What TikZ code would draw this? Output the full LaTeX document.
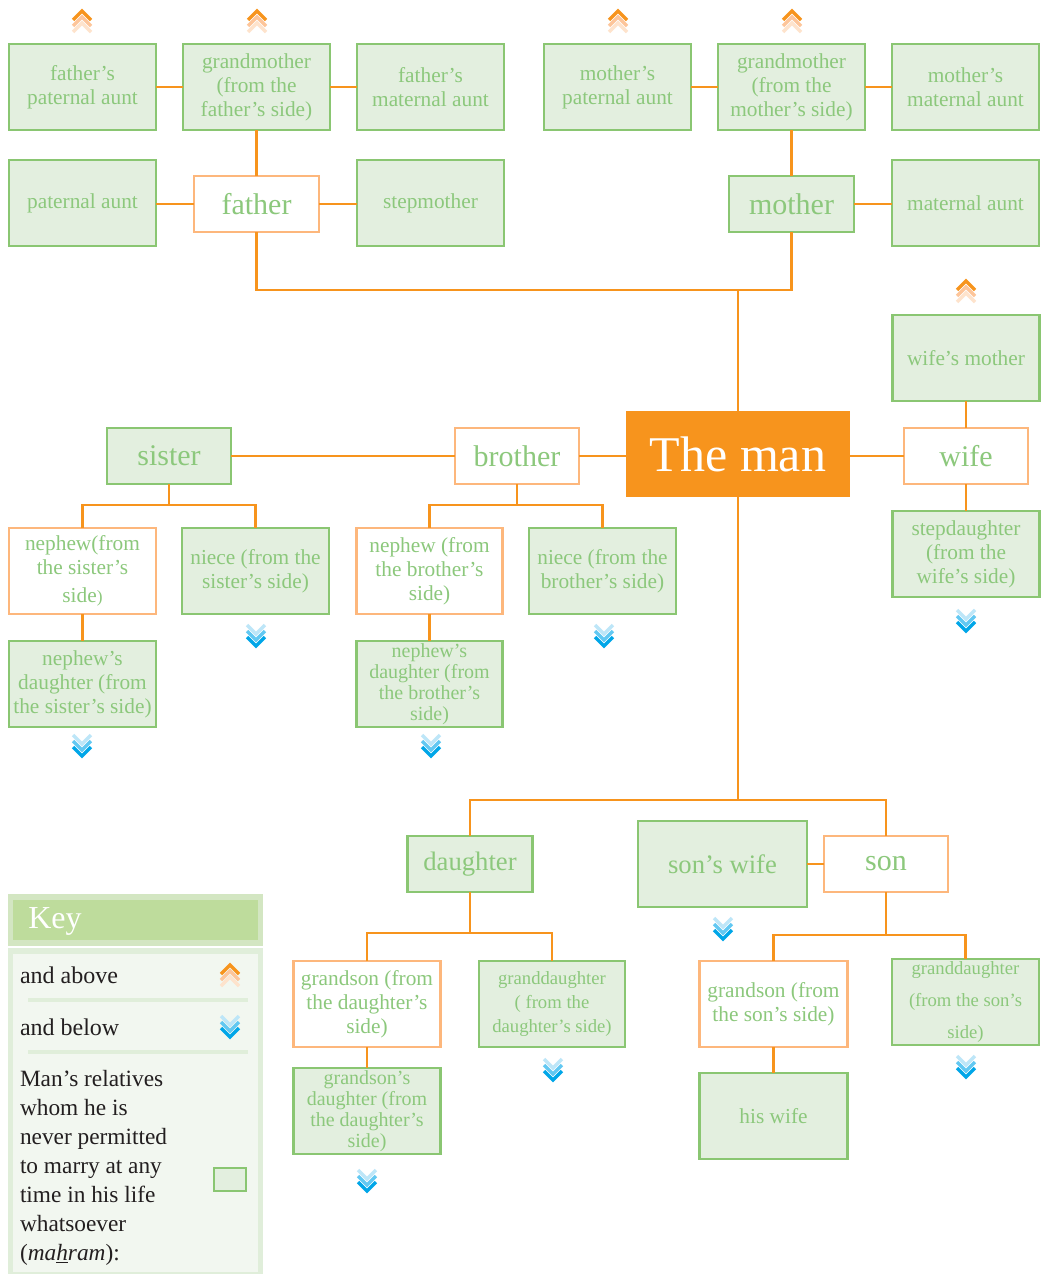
\documentclass[tikz,border=0pt]{standalone}
\usepackage{fontspec}
\setmainfont{Liberation Serif}
\definecolor{lorange}{HTML}{F7941D}
\definecolor{oborder}{HTML}{FDB77C}
\definecolor{gborder}{HTML}{8AC672}
\definecolor{gfill}{HTML}{E3EFDF}
\definecolor{gtext}{HTML}{8CC87C}
\definecolor{cuA}{HTML}{F7941D}
\definecolor{cuB}{HTML}{FDC59A}
\definecolor{cuC}{HTML}{FEE3CC}
\definecolor{cdA}{HTML}{BDE6F8}
\definecolor{cdB}{HTML}{62C8F2}
\definecolor{cdC}{HTML}{00A6E8}
\definecolor{khf}{HTML}{BEDC9C}
\definecolor{khb}{HTML}{D3E6C2}
\definecolor{kbf}{HTML}{F2F7F0}
\definecolor{kbb}{HTML}{E0EEDA}
\definecolor{ktext}{HTML}{231F20}
\begin{document}
\begin{tikzpicture}[x=0.75pt,y=-0.75pt,
  sz/.style 2 args={minimum width=#1*0.75pt-1.5pt, minimum height=#2*0.75pt-1.5pt},
  basebox/.style={line width=2pt, align=center, inner sep=0pt, outer sep=0pt, text=gtext,
     font=\fontsize{16}{18}\selectfont},
  gbox/.style={basebox, draw=gborder, fill=gfill},
  obox/.style={basebox, draw=oborder, fill=white},
  bigtxt/.style={font=\fontsize{22.5}{24}\selectfont},
  midtxt/.style={font=\fontsize{20}{22}\selectfont},
  link/.style={draw=lorange, line width=2.1pt},
  cv/.style={line width=2.6pt, line join=miter},
  chevup/.pic={
    \draw[cv, draw=cuC] (-9,11)--(0,2)--(9,11);
    \draw[cv, draw=cuB] (-9,5)--(0,-4)--(9,5);
    \draw[cv, draw=cuA] (-9,-1)--(0,-10)--(9,-1);},
  chevdown/.pic={
    \draw[cv, draw=cdA] (-9,-11)--(0,-2)--(9,-11);
    \draw[cv, draw=cdB] (-9,-5)--(0,4)--(9,-5);
    \draw[cv, draw=cdC] (-9,1)--(0,10)--(9,1);},
  keytext/.style={text=ktext, inner sep=0pt, outer sep=0pt, font=\fontsize{17.5}{21.75}\selectfont}
]
\useasboundingbox[fill=white] (0,0) rectangle (1041,1274);

% ---------- row 1 ----------
\node[gbox,sz={149}{88}] (fpa) at (82.5,87) {father’s\\paternal aunt};
\node[gbox,sz={149}{88}] (gmf) at (256.5,87) {grandmother\\(from the\\father’s side)};
\node[gbox,sz={149}{88}] (fma) at (430.5,87) {father’s\\maternal aunt};
\node[gbox,sz={149}{88}] (mpa) at (617.5,87) {mother’s\\paternal aunt};
\node[gbox,sz={149}{88}] (gmm) at (791.5,87) {grandmother\\(from the\\mother’s side)};
\node[gbox,sz={149}{88}] (mma) at (965.5,87) {mother’s\\maternal aunt};

% ---------- row 2 ----------
\node[gbox,sz={149}{88}] (pa) at (82.5,203) {paternal aunt};
\node[obox,sz={127}{58},bigtxt] (father) at (256.5,204) {father};
\node[gbox,sz={149}{88}] (stepm) at (430.5,203) {stepmother};
\node[gbox,sz={127}{58},bigtxt] (mother) at (791.5,204) {mother};
\node[gbox,sz={149}{88}] (mata) at (965.5,203) {maternal aunt};

% ---------- wife side ----------
\node[gbox,sz={149}{88}] (wmother) at (966,358) {wife’s mother};
\node[obox,sz={126}{58},bigtxt] (wife) at (966,456) {wife};
\node[gbox,sz={149}{88}] (stepd) at (966,554) {stepdaughter\\(from the\\wife’s side)};

% ---------- centre ----------
\node[fill=lorange, sz={226}{88}, inner sep=0pt, outer sep=0pt, text=white,
      font=\fontsize{37.5}{40}\selectfont] (man) at (738,454) {The man};
\node[obox,sz={126}{58},bigtxt] (brother) at (517,456) {brother};
\node[gbox,sz={126}{58},bigtxt] (sister) at (169,456) {sister};

% ---------- sister's children ----------
\node[obox,sz={149}{88}] (nephS) at (82.5,571) {nephew(from\\the sister’s\\[3pt]side{\fontsize{13}{15}\selectfont)}};
\node[gbox,sz={149}{88}] (nieceS) at (255.5,571) {niece (from the\\sister’s side)};
\node[gbox,sz={149}{88}] (ndS) at (82.5,684) {nephew’s\\daughter (from\\the sister’s side)};

% ---------- brother's children ----------
\node[obox,sz={148}{88}] (nephB) at (429.5,571) {nephew (from\\the brother’s\\side)};
\node[gbox,sz={149}{88}] (nieceB) at (602.5,571) {niece (from the\\brother’s side)};
\node[gbox,sz={148}{88},font=\fontsize{15}{15.9}\selectfont] (ndB) at (429.5,684) {nephew’s\\daughter (from\\the brother’s\\side)};

% ---------- children ----------
\node[gbox,sz={127}{58},midtxt] (daughter) at (470,864) {daughter};
\node[gbox,sz={171}{88},midtxt] (sonswife) at (722.5,864) {son’s wife};
\node[obox,sz={126}{58},bigtxt] (son) at (886,864) {son};

% ---------- daughter's children ----------
\node[obox,sz={149}{88}] (gsD) at (367,1004) {grandson (from\\the daughter’s\\side)};
\node[gbox,sz={148}{88},font=\fontsize{14}{18}\selectfont] (gdD) at (552,1004) {granddaughter\\( from the\\daughter’s side)};
\node[gbox,sz={149}{88},font=\fontsize{15}{15.9}\selectfont] (gsdD) at (367,1111) {grandson’s\\daughter (from\\the daughter’s\\side)};

% ---------- son's children ----------
\node[obox,sz={150}{88}] (gsS) at (773.5,1004) {grandson (from\\the son’s side)};
\node[gbox,sz={149}{88},font=\fontsize{14}{24}\selectfont] (gdS) at (965.5,1002) {granddaughter\\(from the son’s\\side)};
\node[gbox,sz={150}{88}] (hiswife) at (773.5,1116) {his wife};

% ---------- junctions ----------
\coordinate (jtop) at (738,290);
\coordinate (jsis) at (169,505);
\coordinate (jbro) at (517,505);
\coordinate (jman) at (738,800);
\coordinate (jdau) at (470,933);
\coordinate (json) at (886,935);

% ---------- connectors ----------
\draw[link] (fpa.east) -- (gmf.west);
\draw[link] (gmf.east) -- (fma.west);
\draw[link] (mpa.east) -- (gmm.west);
\draw[link] (gmm.east) -- (mma.west);
\draw[link] (gmf.south) -- (father.north);
\draw[link] (gmm.south) -- (mother.north);
\draw[link] (pa.east |- father.west) -- (father.west);
\draw[link] (father.east) -- (father.east -| stepm.west);
\draw[link] (mother.east) -- (mother.east -| mata.west);
\draw[link] (father.south) |- (jtop) -| (mother.south);
\draw[link] (man.north) -- (jtop);
\draw[link] (wmother.south) -- (wife.north);
\draw[link] (wife.south) -- (stepd.north);
\draw[link] (wife.west -| man.east) -- (wife.west);
\draw[link] (sister.east) -- (brother.west);
\draw[link] (brother.east) -- (brother.east -| man.west);
\draw[link] (sister.south) -- (jsis);
\draw[link] (nephS.north) |- (jsis) -| (nieceS.north);
\draw[link] (nephS.south) -- (ndS.north);
\draw[link] (brother.south) -- (jbro);
\draw[link] (nephB.north) |- (jbro) -| (nieceB.north);
\draw[link] (nephB.south) -- (ndB.north);
\draw[link] (man.south) -- (jman);
\draw[link] (daughter.north) |- (jman) -| (son.north);
\draw[link] (son.west) -- (sonswife.east);
\draw[link] (daughter.south) -- (jdau);
\draw[link] (gsD.north) |- (jdau) -| (gdD.north);
\draw[link] (gsD.south) -- (gsdD.north);
\draw[link] (son.south) -- (json);
\draw[link] (gsS.north) |- (json) -| (gdS.north);
\draw[link] (gsS.south) -- (hiswife.north);

% ---------- chevrons ----------
\pic at (82,21) {chevup};
\pic at (257,21) {chevup};
\pic at (618,21) {chevup};
\pic at (792,21) {chevup};
\pic at (966,291) {chevup};
\pic at (256,636) {chevdown};
\pic at (82,746) {chevdown};
\pic at (431,746) {chevdown};
\pic at (604,636) {chevdown};
\pic at (966,621) {chevdown};
\pic at (723,929) {chevdown};
\pic at (553,1070) {chevdown};
\pic at (367,1181) {chevdown};
\pic at (966,1067) {chevdown};

% ---------- key ----------
\node[draw=khb, fill=khf, line width=4pt, sz={252}{48}, inner sep=0pt, outer sep=0pt] (keyhead) at (135.5,920) {};
\node[text=white, anchor=base west, inner sep=0pt, font=\fontsize{24}{26}\selectfont] (keytitle) at (28,928) {Key};
\node[draw=kbb, fill=kbf, line width=4pt, sz={252}{326}, inner sep=0pt, outer sep=0pt] (keybody) at (135.5,1113) {};
\node[keytext, anchor=base west, font=\fontsize{18}{20}\selectfont] (kabove) at (20,983) {and above};
\node[keytext, anchor=base west, font=\fontsize{18}{20}\selectfont] (kbelow) at (20,1035) {and below};
\draw[draw=kbb, line width=3pt] (28,1000) -- (248,1000);
\draw[draw=kbb, line width=3pt] (28,1052) -- (248,1052);
\pic at (230,975) {chevup};
\pic at (230,1027) {chevdown};
\node[keytext, anchor=north west, align=left] (kpara) at (20,1070) {Man’s relatives\\whom he is\\never permitted\\to marry at any\\time in his life\\whatsoever\\(\textit{ma\underline{h}ram}):};
\node[gbox, sz={34}{25}] (ksample) at (230,1179.5) {};
\end{tikzpicture}
\end{document}
